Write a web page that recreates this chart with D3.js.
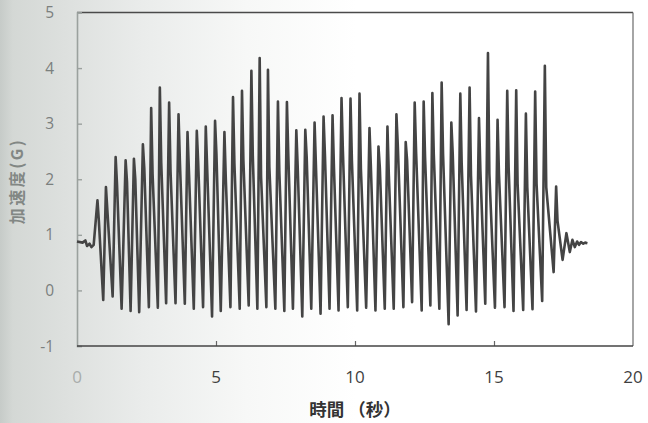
<!DOCTYPE html>
<html>
<head>
<meta charset="utf-8">
<script src="https://cdn.jsdelivr.net/npm/d3@7/dist/d3.min.js"></script>
<style>
  html, body { margin: 0; padding: 0; background: #ffffff; }
  svg { display: block; }
</style>
</head>
<body>
<svg id="chart" width="648" height="423"></svg>
<script>
// Acceleration trace (G) against time (s)

// Quiet lead-in before the first impact
const leadTime = [0, 0.20, 0.30, 0.36, 0.45, 0.52, 0.60];
const leadG    = [0.88, 0.86, 0.90, 0.80, 0.84, 0.78, 0.82];

// Spike maxima
const peakTime = [0.736, 1.041, 1.390, 1.749, 2.047, 2.370, 2.668, 2.980, 3.314, 3.652,
  3.975, 4.309, 4.632, 4.966, 5.303, 5.612, 5.935, 6.273, 6.571, 6.869,
  7.228, 7.551, 7.889, 8.212, 8.546, 8.869, 9.192, 9.515, 9.838, 10.162,
  10.521, 10.844, 11.167, 11.490, 11.824, 12.147, 12.470, 12.783, 13.117, 13.465,
  13.788, 14.122, 14.460, 14.783, 15.128, 15.476, 15.799, 16.147, 16.481, 16.829,
  17.235];
const peakG = [1.62, 1.86, 2.40, 2.34, 2.37, 2.63, 3.28, 3.65, 3.38, 3.17,
  2.85, 2.87, 2.95, 3.05, 2.85, 3.48, 3.59, 3.95, 4.18, 3.97,
  3.40, 3.39, 2.88, 2.89, 3.02, 3.13, 3.15, 3.46, 3.45, 3.54,
  2.92, 2.59, 2.95, 3.17, 2.67, 3.38, 3.40, 3.55, 3.74, 3.02,
  3.54, 3.65, 3.10, 4.27, 3.07, 3.59, 3.60, 3.18, 3.58, 4.04,
  1.87];

// Knee on the falling side of each spike
const shoulderTime = [0.786, 1.091, 1.440, 1.799, 2.097, 2.420, 2.718, 3.030, 3.364, 3.702,
  4.025, 4.359, 4.682, 5.016, 5.353, 5.662, 5.985, 6.323, 6.621, 6.919,
  7.278, 7.601, 7.939, 8.262, 8.596, 8.919, 9.242, 9.565, 9.888, 10.212,
  10.571, 10.894, 11.217, 11.540, 11.874, 12.197, 12.520, 12.833, 13.167, 13.515,
  13.838, 14.172, 14.510, 14.833, 15.178, 15.526, 15.849, 16.197, 16.531, 16.879,
  17.285];
const shoulderG = [1.25, 1.45, 1.90, 1.95, 2.00, 2.20, 2.10, 2.30, 2.15, 2.30,
  2.15, 2.30, 2.20, 2.45, 2.00, 2.28, 2.34, 2.43, 2.05, 2.22,
  2.13, 2.43, 2.22, 2.40, 2.22, 2.43, 2.22, 2.50, 2.34, 2.19,
  2.22, 2.20, 2.07, 2.60, 2.34, 2.50, 2.40, 2.46, 2.46, 2.46,
  2.28, 2.07, 2.16, 2.10, 2.10, 2.22, 1.92, 1.86, 1.92, 1.86,
  1.25];

// Minima between spikes
const troughTime = [0.944, 1.282, 1.605, 1.928, 2.237, 2.585, 2.908, 3.206, 3.544, 3.878,
  4.201, 4.535, 4.858, 5.171, 5.519, 5.853, 6.176, 6.488, 6.812, 7.135,
  7.458, 7.767, 8.104, 8.427, 8.761, 9.084, 9.408, 9.741, 10.079, 10.402,
  10.736, 11.070, 11.393, 11.741, 12.054, 12.399, 12.711, 13.034, 13.368, 13.691,
  14.014, 14.352, 14.686, 15.034, 15.379, 15.702, 16.050, 16.385, 16.733, 17.145];
const troughG = [-0.17, -0.11, -0.33, -0.37, -0.39, -0.30, -0.31, -0.23, -0.23, -0.24,
  -0.33, -0.30, -0.47, -0.37, -0.30, -0.33, -0.27, -0.33, -0.30, -0.33,
  -0.37, -0.33, -0.47, -0.33, -0.42, -0.33, -0.36, -0.30, -0.36, -0.31,
  -0.36, -0.33, -0.33, -0.30, -0.21, -0.36, -0.27, -0.33, -0.61, -0.45,
  -0.35, -0.38, -0.24, -0.31, -0.30, -0.37, -0.35, -0.34, -0.19, 0.33];

// Ring-down after the last impact
const ringTime = [17.467, 17.605, 17.727, 17.821, 17.907, 17.989, 18.06, 18.13, 18.21, 18.28, 18.36];
const ringG    = [0.55, 1.03, 0.69, 0.91, 0.78, 0.88, 0.82, 0.87, 0.84, 0.86, 0.85];

// Axis ticks and titles
const xTicks = [0, 5, 10, 15, 20];
const yTicks = [-1, 0, 1, 2, 3, 4, 5];
const xTitle = "時間 （秒）";
const yTitle = "加速度(G)";

const pts = [];
const add = (ts, gs) => ts.forEach((t, i) => pts.push([t, gs[i]]));
add(leadTime, leadG);
add(peakTime, peakG);
add(shoulderTime, shoulderG);
add(troughTime, troughG);
add(ringTime, ringG);
pts.sort((a, b) => a[0] - b[0]);

const W = 648, H = 423;
const plot = { left: 77, right: 633, top: 12.5, bottom: 346 };

const svg = d3.select("#chart");

// Paper tone: greyish toward the left edge, fading to white
const defs = svg.append("defs");
const grad = defs.append("linearGradient").attr("id", "paper")
  .attr("x1", "0").attr("x2", "1").attr("y1", "0").attr("y2", "0");
[[0, "#c6cbc8"], [0.02, "#d4d8d5"], [0.10, "#dde0de"], [0.22, "#eaeceb"],
 [0.38, "#f7f8f7"], [0.55, "#ffffff"], [1, "#ffffff"]].forEach(([o, c]) =>
  grad.append("stop").attr("offset", o).attr("stop-color", c));
svg.append("rect").attr("width", W).attr("height", H).attr("fill", "url(#paper)");

const x = d3.scaleLinear().domain([0, 20]).range([plot.left, plot.right]);
const y = d3.scaleLinear().domain([-1, 5]).range([plot.bottom, plot.top]);

// Frame
svg.append("line").attr("x1", plot.left).attr("x2", plot.right)
  .attr("y1", plot.top).attr("y2", plot.top)
  .attr("stroke", "#4a4a4a").attr("stroke-width", 1.3);
svg.append("line").attr("x1", plot.right).attr("x2", plot.right)
  .attr("y1", plot.top).attr("y2", plot.bottom)
  .attr("stroke", "#6a6a6a").attr("stroke-width", 1.2);

// Left axis with inward ticks
const yAxis = d3.axisRight(y).tickValues(yTicks).tickSize(5).tickFormat("");
const gy = svg.append("g").attr("transform", `translate(${plot.left},0)`).call(yAxis);
gy.select(".domain").attr("stroke", "#9ba19e").attr("stroke-width", 1.6);
gy.selectAll(".tick line").attr("stroke", "#9ba19e").attr("stroke-width", 1.4);

svg.append("g").selectAll("text").data(yTicks).join("text")
  .attr("x", 54).attr("y", d => y(d)).attr("dy", "0.36em")
  .attr("text-anchor", "end")
  .attr("font-family", "'Open Sans', 'Noto Sans', sans-serif")
  .attr("font-size", 15.5).attr("fill", "#7b807e")
  .text(d => d);

// Bottom axis with inward ticks
const xAxis = d3.axisTop(x).tickValues([5, 10, 15]).tickSize(5).tickFormat("");
const gx = svg.append("g").attr("transform", `translate(0,${plot.bottom})`).call(xAxis);
gx.select(".domain").remove();
gx.selectAll(".tick line").attr("stroke", "#666").attr("stroke-width", 1.2);
svg.append("line").attr("x1", plot.left).attr("x2", plot.right)
  .attr("y1", plot.bottom).attr("y2", plot.bottom)
  .attr("stroke", "#454545").attr("stroke-width", 1.4);

svg.append("g").selectAll("text").data(xTicks).join("text")
  .attr("x", d => x(d)).attr("y", 383)
  .attr("text-anchor", "middle")
  .attr("font-family", "'Open Sans', 'Noto Sans', sans-serif")
  .attr("font-size", 17)
  .attr("fill", d => d === 0 ? "#a9adab" : "#3f3f3f")
  .text(d => d);

// Axis titles
svg.append("text")
  .attr("x", 355).attr("y", 416).attr("text-anchor", "middle")
  .attr("font-family", "'Noto Sans CJK JP', sans-serif")
  .attr("font-weight", "bold").attr("font-size", 17.5).attr("fill", "#333")
  .text(xTitle);

svg.append("text")
  .attr("transform", "translate(23,181) rotate(-90)")
  .attr("text-anchor", "middle")
  .attr("font-family", "'Noto Sans CJK JP', sans-serif")
  .attr("font-weight", "bold").attr("font-size", 16).attr("letter-spacing", 2.5)
  .attr("fill", "#828784")
  .text(yTitle);

// Trace
const line = d3.line().x(d => x(d[0])).y(d => y(d[1])).curve(d3.curveLinear);
svg.append("path").datum(pts)
  .attr("d", line)
  .attr("fill", "none")
  .attr("stroke", "#444444")
  .attr("stroke-width", 2.6)
  .attr("stroke-linejoin", "round");
</script>
</body>
</html>
